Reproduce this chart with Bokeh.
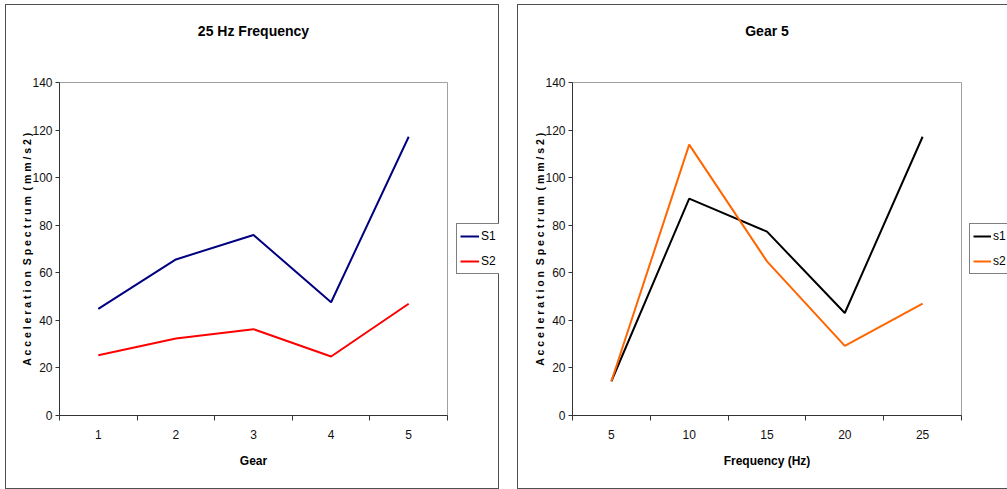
from bokeh.plotting import figure
from bokeh.layouts import row
from bokeh.models import Range1d, FixedTicker, Legend, LegendItem, Title
from bokeh.embed import file_html
from bokeh.resources import INLINE

# ---- data ----
gears = [1, 2, 3, 4, 5]
gear_s1 = [44.8, 65.6, 75.9, 47.6, 117.2]
gear_s2 = [25.3, 32.4, 36.3, 24.8, 47.0]

freqs = [5, 10, 15, 20, 25]
freq_s1 = [14.4, 91.2, 77.3, 43.1, 117.2]
freq_s2 = [14.4, 113.9, 64.8, 29.3, 47.0]

y_ticks = [0, 20, 40, 60, 80, 100, 120, 140]
y_label = "A c c e l e r a t i o n\u00a0\u00a0S p e c t r u m\u00a0\u00a0( m m / s 2 )"

FONT = "'Liberation Sans Narrow', 'Arial Narrow', 'Liberation Sans', sans-serif"
BORDER = "1px solid #505050"
H = 485


def main_panel(width, xs, series, colors, title, xlabel, xr, step, mb_left, mb_right, margin_left):
    p = figure(width=width, height=H, output_backend="svg", toolbar_location=None,
               title=None, x_range=Range1d(*xr), y_range=Range1d(0, 140),
               min_border_left=mb_left, min_border_right=mb_right,
               min_border_top=77, min_border_bottom=75,
               background_fill_color="white", border_fill_color="white",
               margin=(4, 0, 0, margin_left),
               styles={"border-left": BORDER, "border-top": BORDER, "border-bottom": BORDER})
    # spacer + title
    p.add_layout(Title(text=" ", standoff=36, text_font_size="1px"), "above")
    p.add_layout(Title(text=title, align="center", text_font=FONT, text_font_size="14px",
                       text_font_style="bold", text_color="black", standoff=10), "above")
    p.grid.visible = False
    p.outline_line_color = "#a0a0a0"
    p.outline_line_width = 1

    for ys, c in zip(series, colors):
        p.line(xs, ys, line_color=c, line_width=2)

    minor = [x - step / 2 for x in xs] + [xs[-1] + step / 2]
    p.xaxis.ticker = FixedTicker(ticks=xs, minor_ticks=minor)
    p.xaxis.major_label_overrides = {x: str(x) for x in xs}
    p.yaxis.ticker = FixedTicker(ticks=y_ticks, minor_ticks=[])
    for ax in (p.xaxis[0], p.yaxis[0]):
        ax.axis_line_color = "#333333"
        ax.axis_line_width = 1
        ax.major_label_text_font = FONT
        ax.major_label_text_font_size = "12px"
        ax.major_label_text_color = "#111111"
        ax.axis_label_text_font = FONT
        ax.axis_label_text_font_style = "bold"
        ax.axis_label_text_color = "black"
    p.xaxis.major_tick_out = 0
    p.xaxis.major_tick_in = 0
    p.xaxis.minor_tick_out = 5
    p.xaxis.minor_tick_in = 0
    p.xaxis.minor_tick_line_color = "#333333"
    p.xaxis.major_label_standoff = 9
    p.xaxis.axis_label = xlabel
    p.xaxis.axis_label_text_font_size = "12px"
    p.xaxis.axis_label_standoff = 12

    p.yaxis.major_tick_out = 4
    p.yaxis.major_tick_in = 0
    p.yaxis.major_tick_line_color = "#333333"
    p.yaxis.major_label_standoff = 3
    p.yaxis.axis_label = y_label
    p.yaxis.axis_label_text_font_size = "10.5px"
    p.yaxis.axis_label_standoff = -4
    return p


def legend_panel(width, xs, series, names, colors, glyph_w, styles):
    # the series lines lie outside this panel's ranges, so only the legend shows
    p = figure(width=width, height=H, output_backend="svg", toolbar_location=None,
               title=None, x_range=Range1d(-2, -1), y_range=Range1d(-2, -1),
               x_axis_location=None, y_axis_location=None,
               min_border_left=0, min_border_right=0, min_border_top=0, min_border_bottom=0,
               background_fill_color="white", border_fill_color="white",
               margin=(4, 0, 0, 0), styles=styles)
    p.grid.visible = False
    p.outline_line_color = None
    rs = [p.line(xs, ys, line_color=c, line_width=2) for ys, c in zip(series, colors)]
    legend = Legend(items=[LegendItem(label=n, renderers=[r]) for n, r in zip(names, rs)],
                    location=(0, 141))
    legend.border_line_color = "black"
    legend.border_line_width = 1
    legend.background_fill_color = "white"
    legend.background_fill_alpha = 1
    legend.label_text_font = FONT
    legend.label_text_font_size = "12px"
    legend.label_text_color = "black"
    legend.glyph_width = glyph_w
    legend.glyph_height = 18
    legend.label_height = 18
    legend.label_standoff = 2
    legend.padding = 3
    legend.spacing = 7
    legend.margin = 0
    p.add_layout(legend)
    return p


left_colors = ["#000080", "#ff0000"]
right_colors = ["#000000", "#ff6600"]

m1 = main_panel(451, gears, [gear_s1, gear_s2], left_colors,
                "25 Hz Frequency", "Gear", (0.5, 5.5), 1, 53, 10, 5)
l1 = legend_panel(43, gears, [gear_s1, gear_s2], ["S1", "S2"], left_colors, 19,
                  {"border-right": BORDER, "border-top": BORDER, "border-bottom": BORDER})
m2 = main_panel(452, freqs, [freq_s1, freq_s2], right_colors,
                "Gear 5", "Frequency (Hz)", (2.5, 27.5), 5, 54, 9, 18)
l2 = legend_panel(38, freqs, [freq_s1, freq_s2], ["s1", "s2"], right_colors, 18,
                  {"border-top": BORDER, "border-bottom": BORDER})

layout = row(m1, l1, m2, l2, spacing=0)
open("out.html", "w").write(file_html(layout, INLINE))
